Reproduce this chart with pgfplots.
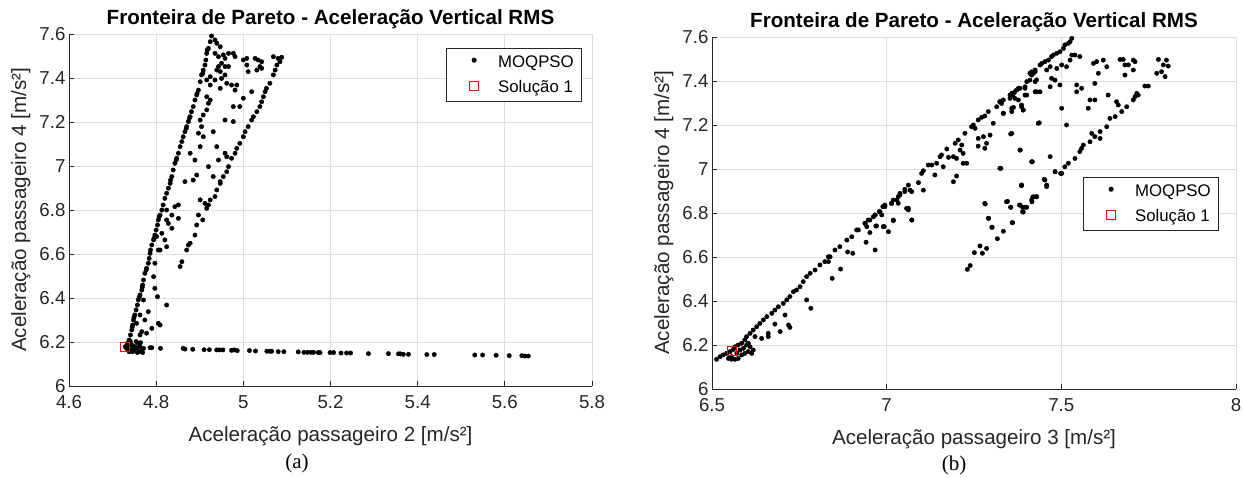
\documentclass[border=0pt]{standalone}
\usepackage{fontspec}
\setmainfont{Liberation Sans}
\newfontfamily\seriffont{Liberation Serif}
\usepackage{pgfplots}
\pgfplotsset{compat=1.18}
\definecolor{axc}{RGB}{38,38,38}
\definecolor{gridc}{RGB}{222,222,222}

\pgfplotstableread{
x y
4.927 7.591
4.924 7.565
4.920 7.535
4.916 7.512
4.914 7.482
4.912 7.459
4.908 7.436
4.904 7.414
4.901 7.383
4.897 7.345
4.893 7.323
4.889 7.300
4.885 7.270
4.881 7.247
4.878 7.224
4.874 7.202
4.870 7.179
4.866 7.156
4.862 7.133
4.859 7.111
4.855 7.088
4.851 7.058
4.847 7.035
4.843 7.012
4.839 6.982
4.836 6.952
4.832 6.921
4.828 6.899
4.824 6.876
4.820 6.853
4.917 7.527
4.907 7.421
4.894 7.330
4.876 7.217
4.869 7.171
4.846 7.027
4.833 6.936
4.935 7.573
4.939 7.558
4.947 7.542
4.935 7.512
4.943 7.497
4.954 7.505
4.958 7.489
4.966 7.512
4.977 7.512
4.981 7.497
4.950 7.467
4.958 7.452
4.939 7.436
4.943 7.452
4.947 7.429
4.966 7.452
5.000 7.482
5.008 7.489
5.027 7.489
5.034 7.482
5.042 7.474
5.038 7.452
5.008 7.459
5.011 7.429
5.031 7.436
5.042 7.444
5.069 7.497
5.080 7.489
5.088 7.494
5.084 7.474
5.077 7.459
5.073 7.436
5.069 7.414
5.061 7.376
5.053 7.353
5.050 7.338
5.046 7.315
5.042 7.292
5.038 7.270
5.031 7.247
5.023 7.224
5.019 7.209
5.011 7.179
5.004 7.156
5.000 7.133
4.992 7.103
4.985 7.080
4.981 7.058
4.973 7.035
4.966 6.997
4.962 6.974
4.954 6.952
4.947 6.921
4.939 6.891
4.935 6.861
4.924 7.406
4.916 7.391
4.924 7.368
4.935 7.391
4.950 7.398
4.958 7.414
4.947 7.353
4.962 7.376
4.973 7.368
4.985 7.368
4.981 7.345
5.019 7.338
5.000 7.308
4.977 7.270
4.992 7.270
4.958 7.209
4.977 7.202
4.931 7.156
4.920 7.285
4.916 7.255
4.908 7.232
4.924 7.300
4.916 7.315
4.901 7.209
4.904 7.179
4.897 7.149
4.908 7.133
4.901 7.088
4.878 7.058
4.889 7.027
4.893 6.959
4.939 7.088
4.958 7.058
4.943 7.027
4.920 6.997
4.931 6.952
4.947 6.929
4.962 7.042
4.866 6.929
4.885 6.936
4.816 6.823
4.813 6.800
4.809 6.777
4.805 6.755
4.803 6.732
4.800 6.709
4.797 6.686
4.794 6.664
4.790 6.641
4.786 6.603
4.784 6.580
4.782 6.558
4.778 6.535
4.774 6.512
4.771 6.482
4.769 6.459
4.767 6.436
4.763 6.414
4.759 6.391
4.757 6.368
4.754 6.346
4.751 6.323
4.748 6.300
4.746 6.277
4.744 6.255
4.741 6.232
4.738 6.209
4.736 6.194
4.807 6.770
4.795 6.671
4.787 6.618
4.777 6.527
4.768 6.448
4.761 6.403
4.749 6.312
4.745 6.267
4.824 6.800
4.836 6.777
4.828 6.739
4.836 6.717
4.824 6.755
4.813 6.694
4.820 6.664
4.801 6.679
4.805 6.618
4.809 6.618
4.824 6.633
4.797 6.558
4.794 6.497
4.797 6.444
4.803 6.406
4.782 6.338
4.774 6.300
4.790 6.262
4.778 6.240
4.763 6.232
4.805 6.285
4.809 6.277
4.771 6.391
4.763 6.323
4.824 6.368
4.755 6.285
4.767 6.247
4.851 6.762
4.851 6.823
4.843 6.815
4.924 6.846
4.920 6.823
4.916 6.808
4.907 6.755
4.897 6.777
4.893 6.732
4.889 6.686
4.878 6.649
4.874 6.641
4.870 6.618
4.859 6.565
4.855 6.543
4.901 6.846
4.912 6.830
4.729 6.179
4.732 6.171
4.736 6.179
4.740 6.164
4.744 6.186
4.748 6.171
4.751 6.179
4.755 6.171
4.759 6.194
4.763 6.179
4.767 6.164
4.771 6.171
4.761 6.156
4.746 6.156
4.738 6.156
4.734 6.194
4.741 6.202
4.754 6.202
4.764 6.197
4.757 6.152
4.769 6.152
4.749 6.161
4.736 6.164
4.786 6.174
4.790 6.174
4.810 6.171
4.862 6.171
4.866 6.168
4.884 6.167
4.910 6.165
4.922 6.165
4.939 6.164
4.945 6.164
4.953 6.164
4.973 6.162
4.979 6.164
4.986 6.161
5.014 6.161
5.028 6.159
5.054 6.158
5.061 6.158
5.065 6.158
5.080 6.156
5.093 6.156
5.126 6.155
5.139 6.153
5.147 6.153
5.155 6.153
5.161 6.153
5.172 6.152
5.176 6.152
5.199 6.152
5.207 6.152
5.224 6.150
5.237 6.150
5.246 6.150
5.287 6.147
5.333 6.147
5.356 6.146
5.360 6.146
5.367 6.144
5.379 6.144
5.421 6.143
5.438 6.143
5.531 6.141
5.549 6.141
5.580 6.140
5.610 6.138
5.639 6.138
5.646 6.136
5.654 6.136
}\dataA

\pgfplotstableread{
x y
6.513 6.135
6.523 6.147
6.532 6.155
6.542 6.162
6.552 6.170
6.561 6.180
6.566 6.192
6.575 6.200
6.585 6.208
6.594 6.223
6.599 6.238
6.609 6.253
6.618 6.268
6.628 6.283
6.637 6.298
6.647 6.314
6.657 6.329
6.671 6.344
6.680 6.359
6.690 6.374
6.704 6.389
6.714 6.405
6.723 6.420
6.733 6.442
6.742 6.450
6.752 6.465
6.761 6.488
6.771 6.511
6.781 6.526
6.795 6.541
6.809 6.564
6.823 6.579
6.833 6.601
6.852 6.632
6.866 6.647
6.886 6.677
6.900 6.692
6.919 6.723
6.938 6.753
6.952 6.768
6.967 6.791
6.981 6.806
6.995 6.829
7.014 6.844
7.029 6.859
7.038 6.882
7.052 6.897
6.547 6.139
6.556 6.147
6.566 6.135
6.575 6.139
6.585 6.155
6.594 6.162
6.604 6.170
6.614 6.162
6.609 6.192
6.599 6.200
6.590 6.185
6.580 6.177
6.571 6.162
6.618 6.177
6.604 6.208
6.556 6.135
6.623 6.238
6.642 6.230
6.661 6.253
6.661 6.238
6.680 6.295
6.695 6.261
6.709 6.336
6.719 6.291
6.723 6.280
6.771 6.405
6.783 6.367
6.844 6.503
6.868 6.545
6.888 6.623
6.903 6.617
6.941 6.667
6.967 6.632
6.993 6.738
7.005 6.715
7.019 6.765
7.072 6.768
7.062 6.821
6.952 6.711
6.971 6.741
6.986 6.791
6.833 6.579
6.838 6.601
6.914 6.723
6.938 6.753
6.947 6.768
6.962 6.783
6.967 6.791
6.979 6.806
6.989 6.829
6.995 6.836
7.014 6.844
7.019 6.859
7.033 6.874
7.038 6.889
7.052 6.908
7.062 6.927
7.067 6.904
7.072 6.897
7.091 6.938
7.100 6.980
7.105 6.992
7.119 7.018
7.129 7.018
7.143 7.026
7.153 7.056
7.157 7.064
7.172 7.091
7.196 7.117
7.205 7.132
7.215 7.109
7.224 7.162
7.243 7.192
7.248 7.200
7.253 7.185
7.262 7.223
7.272 7.235
7.281 7.241
7.291 7.261
7.315 7.283
7.324 7.306
7.329 7.298
7.358 7.344
7.367 7.351
7.377 7.367
7.396 7.367
7.401 7.397
7.410 7.435
7.415 7.442
7.425 7.450
7.429 7.405
6.943 6.738
6.969 6.741
6.990 6.738
7.019 6.768
7.033 6.844
7.057 6.821
7.062 6.814
7.072 6.768
7.105 6.904
7.138 6.973
7.162 7.010
7.177 7.053
7.191 7.056
7.200 7.048
7.219 7.026
7.229 7.026
7.191 6.942
7.200 6.968
7.210 7.086
7.219 7.071
7.262 7.139
7.262 7.104
7.277 7.147
7.286 7.117
7.281 7.094
7.296 7.154
7.305 7.208
7.334 7.253
7.358 7.261
7.363 7.280
7.386 7.291
7.391 7.268
7.396 7.336
7.425 7.351
7.353 7.321
7.361 7.336
7.434 7.208
7.355 7.159
7.382 7.086
7.417 7.033
7.327 7.003
7.386 6.927
7.281 6.844
7.343 6.851
7.355 6.826
7.382 6.836
7.389 6.806
7.396 6.826
7.415 6.859
7.420 6.874
7.429 6.874
7.291 6.776
7.301 6.735
7.360 6.756
7.324 7.306
7.334 7.314
7.353 7.336
7.363 7.344
7.372 7.359
7.382 7.367
7.396 7.374
7.410 7.404
7.415 7.427
7.420 7.435
7.425 7.442
7.439 7.473
7.444 7.480
7.453 7.488
7.463 7.495
7.472 7.511
7.477 7.518
7.487 7.526
7.496 7.533
7.506 7.548
7.510 7.564
7.520 7.571
7.525 7.579
7.530 7.594
7.334 7.253
7.358 7.276
7.367 7.321
7.377 7.314
7.386 7.283
7.391 7.268
7.401 7.336
7.425 7.397
7.429 7.351
7.439 7.351
7.468 7.374
7.472 7.412
7.482 7.404
7.487 7.457
7.496 7.382
7.501 7.473
7.515 7.465
7.525 7.495
7.530 7.518
7.539 7.518
7.553 7.511
7.468 7.465
7.458 7.450
7.592 7.480
7.601 7.488
7.620 7.495
7.630 7.465
7.606 7.435
7.596 7.389
7.544 7.382
7.558 7.367
7.544 7.351
7.668 7.498
7.677 7.498
7.682 7.473
7.692 7.473
7.706 7.495
7.711 7.488
7.706 7.450
7.682 7.427
7.778 7.498
7.787 7.442
7.792 7.473
7.801 7.495
7.806 7.468
7.773 7.435
7.797 7.420
7.582 7.314
7.596 7.314
7.577 7.276
7.634 7.336
7.658 7.306
7.663 7.291
7.673 7.261
7.687 7.283
7.711 7.329
7.716 7.344
7.720 7.336
7.706 7.314
7.739 7.377
7.749 7.377
7.639 7.230
7.654 7.238
7.630 7.192
7.611 7.170
7.611 7.139
7.596 7.147
7.587 7.162
7.582 7.124
7.563 7.109
7.558 7.094
7.553 7.079
7.539 7.048
7.520 7.026
7.510 7.010
7.501 6.980
7.482 6.988
7.468 7.056
7.415 7.033
7.382 7.086
7.358 7.162
7.324 7.003
7.453 6.950
7.458 6.927
7.386 6.927
7.437 7.210
7.501 7.276
7.515 7.200
7.231 6.544
7.239 6.561
7.251 6.620
7.267 6.650
7.274 6.617
7.286 6.639
7.317 6.683
7.334 6.717
7.302 6.735
7.292 6.776
7.282 6.841
7.360 6.756
7.346 6.853
7.355 6.826
7.386 6.924
7.380 6.836
7.389 6.826
7.391 6.804
7.401 6.826
7.416 6.851
7.418 6.871
7.429 6.874
7.451 6.953
7.458 6.920
7.482 6.988
7.498 6.980
}\dataB

\pgfplotsset{
  common/.style={
    scale only axis,
    anchor=south west,
    axis x line*=bottom,
    axis y line*=left,
    axis line style={axc, line width=0.9pt, -},
    tick align=inside,
    major tick length=5pt,
    tick style={axc, line width=0.9pt},
    grid=major,
    major grid style={gridc, line width=0.9pt},
    tick label style={font=\fontsize{18.7}{22}\selectfont, text=axc},
    xticklabel style={yshift=-6pt},
    /pgf/number format/assume math mode=true,
    /pgf/number format/fixed,
    label style={font=\fontsize{20.6}{24}\selectfont, text=axc},
    title style={font=\fontsize{20.6}{24}\selectfont\bfseries, at={(0.5,1)}, anchor=base, yshift=3pt},
    xlabel style={at={(axis description cs:0.5,-0.142)}, anchor=center},
    ylabel style={at={(axis description cs:-0.092,0.5)}, anchor=center},
    ymin=6, ymax=7.6,
    ytick={6,6.2,6.4,6.6,6.8,7,7.2,7.4,7.6},
    yticklabels={6,6.2,6.4,6.6,6.8,7,7.2,7.4,7.6},
    legend cell align=left,
    legend style={draw=axc, line width=0.6pt, fill=white,
      font=\fontsize{16.8}{20}\selectfont, text=black,
      inner xsep=5pt, inner ysep=4.2pt, row sep=6pt,
      nodes={inner sep=3pt}},
    title={Fronteira de Pareto - Aceleração Vertical RMS},
    ylabel={Aceleração passageiro 4 [m/s²]},
  },
  dots/.style={only marks, mark=*, mark size=2.2pt, black, mark options={draw=black, fill=black},
    legend image code/.code={\path[draw=none,fill=none] (-8pt,-1pt) rectangle (36pt,5pt); \draw[##1] plot coordinates {(15pt,2pt)};}},
  sol/.style={only marks, mark=square, mark size=4.5pt, red, mark options={draw=red, line width=0.9pt, fill=none},
    legend image code/.code={\path[draw=none,fill=none] (-8pt,-1pt) rectangle (36pt,5pt); \draw[##1] plot coordinates {(15pt,2pt)};}},
}

\begin{document}
\begin{tikzpicture}
\path[use as bounding box] (0,0) rectangle (1243pt,477pt);
\begin{axis}[common,
  at={(69pt,91pt)}, width=523pt, height=352pt,
  xmin=4.6, xmax=5.8,
  xtick={4.6,4.8,5,5.2,5.4,5.6,5.8},
  xticklabels={4.6,4.8,5,5.2,5.4,5.6,5.8},
  xlabel={Aceleração passageiro 2 [m/s²]},
  legend style={at={(axis description cs:0.981,0.960)}, anchor=north east},
]
\addplot[dots] table[x=x,y=y] {\dataA};
\addlegendentry{MOQPSO}
\addplot[sol] coordinates {(4.729,6.176)};
\addlegendentry{Solução 1}
\end{axis}
\begin{axis}[common,
  at={(712pt,88pt)}, width=524pt, height=352pt,
  xmin=6.5, xmax=8,
  xtick={6.5,7,7.5,8},
  xticklabels={6.5,7,7.5,8},
  xlabel={Aceleração passageiro 3 [m/s²]},
  legend style={at={(axis description cs:0.9676,0.602)}, anchor=north east},
]
\addplot[dots] table[x=x,y=y] {\dataB};
\addlegendentry{MOQPSO}
\addplot[sol] coordinates {(6.558,6.174)};
\addlegendentry{Solução 1}
\end{axis}
\node[font=\seriffont\fontsize{21}{25}\selectfont, text=black] at (297pt,14pt) {(a)};
\node[font=\seriffont\fontsize{21}{25}\selectfont, text=black] at (954pt,12pt) {(b)};
\end{tikzpicture}
\end{document}
